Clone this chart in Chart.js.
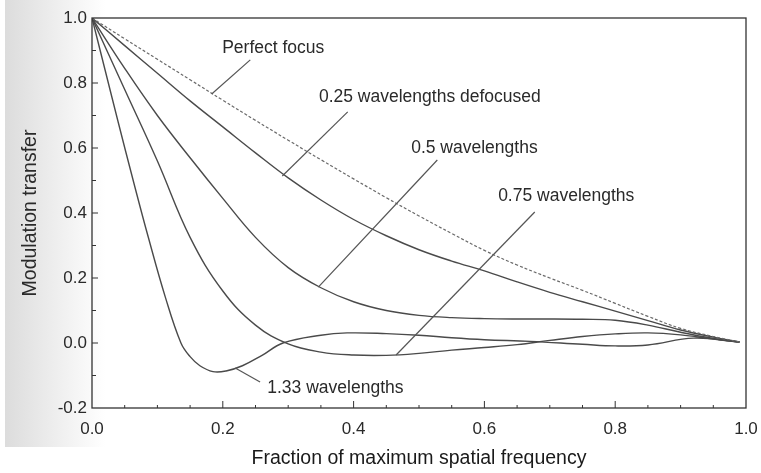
<!DOCTYPE html>
<html lang="en">
<head>
  <meta charset="UTF-8">
  <title>Modulation transfer vs. defocus</title>
  <script src="https://cdn.jsdelivr.net/npm/chart.js"></script>
  <style>
    html, body { margin: 0; padding: 0; background: #fff; }
    .wrap { position: relative; width: 761px; height: 473px; }
    .scan { position: absolute; left: 5px; top: 0; width: 100px; height: 447px;
            background: linear-gradient(to right, #dcdcdc, #ececec 45%, #fff); }
    canvas { position: absolute; left: 0; top: 0; }
  </style>
</head>
<body>
  <div class="wrap">
    <div class="scan"></div>
    <canvas id="mtf" width="761" height="473"></canvas>
  </div>

  <script>
    // Values
    const freq = [0, 0.05, 0.1, 0.15, 0.2, 0.25, 0.3, 0.35, 0.4, 0.45, 0.5, 0.55, 0.6, 0.65, 0.7, 0.75, 0.8, 0.85, 0.9, 0.95, 0.99];
    const perfectFocus = [1, 0.936, 0.873, 0.81, 0.747, 0.685, 0.624, 0.564, 0.505, 0.447, 0.391, 0.337, 0.285, 0.24, 0.2, 0.162, 0.122, 0.082, 0.045, 0.02, 0.003];
    const defocus025 = [1, 0.915, 0.83, 0.745, 0.665, 0.585, 0.508, 0.44, 0.38, 0.33, 0.287, 0.252, 0.222, 0.188, 0.156, 0.127, 0.098, 0.069, 0.04, 0.018, 0.003];
    const defocus05 = [1, 0.845, 0.70, 0.57, 0.445, 0.325, 0.232, 0.17, 0.127, 0.1, 0.085, 0.078, 0.075, 0.074, 0.074, 0.073, 0.07, 0.055, 0.033, 0.014, 0.003];
    const defocus075 = [1, 0.78, 0.56, 0.325, 0.16, 0.055, -0.003, -0.028, -0.037, -0.038, -0.032, -0.022, -0.014, -0.005, 0.008, 0.02, 0.028, 0.031, 0.025, 0.012, 0.003];
    const freq133 = [0, 0.02, 0.04, 0.063, 0.086, 0.112, 0.136, 0.15, 0.165, 0.185, 0.205, 0.23, 0.26, 0.292, 0.35, 0.39, 0.45, 0.5, 0.55, 0.6, 0.67, 0.75, 0.8, 0.85, 0.92, 0.99];
    const defocus133 = [1, 0.84, 0.68, 0.5, 0.326, 0.142, 0.0, -0.042, -0.07, -0.088, -0.086, -0.07, -0.038, 0.0, 0.024, 0.031, 0.029, 0.024, 0.016, 0.01, 0.005, -0.004, -0.009, -0.006, 0.015, 0.003];

    // curve labels: text, left edge / middle of text, and leader line from -> to (data units)
    const labels = [
      { text: 'Perfect focus', at: [0.199, 0.908], leader: [0.242, 0.871, 0.183, 0.766] },
      { text: '0.25 wavelengths defocused', at: [0.347, 0.757], leader: [0.391, 0.711, 0.291, 0.514] },
      { text: '0.5 wavelengths', at: [0.488, 0.600], leader: [0.528, 0.563, 0.346, 0.172] },
      { text: '0.75 wavelengths', at: [0.621, 0.452], leader: [0.677, 0.403, 0.465, -0.037] },
      { text: '1.33 wavelengths', at: [0.268, -0.138], leader: [0.257, -0.12, 0.219, -0.077] }
    ];

    const FONT = '"Liberation Sans", Arial, Helvetica, sans-serif';
    const toPoints = (xs, ys) => xs.map((x, i) => ({ x: x, y: ys[i] }));
    const fmt = v => (Math.abs(v) < 1e-9 ? 0 : v).toFixed(1);

    function curve(data, dashed) {
      return {
        data: data,
        borderColor: dashed ? '#6a6a6a' : '#4a4a4a',
        borderWidth: dashed ? 1.2 : 1.4,
        borderDash: dashed ? [3, 2] : [],
        pointRadius: 0,
        tension: 0.4,
        fill: false
      };
    }

    // box, inward ticks and curve labels
    const overlay = {
      id: 'overlay',
      afterDatasetsDraw(chart) {
        const { ctx, chartArea: a, scales: { x, y } } = chart;
        ctx.save();
        ctx.strokeStyle = '#333';
        ctx.lineWidth = 1.3;
        ctx.strokeRect(a.left, a.top, a.right - a.left, a.bottom - a.top);

        ctx.lineWidth = 1;
        ctx.beginPath();
        for (let i = 1; i < 20; i++) {
          const px = x.getPixelForValue(i * 0.05);
          const len = i % 4 === 0 ? 7 : 3;
          ctx.moveTo(px, a.bottom);
          ctx.lineTo(px, a.bottom - len);
        }
        for (let i = -1; i < 10; i++) {
          const py = y.getPixelForValue(i / 10);
          const len = i % 2 === 0 ? 6 : 4;
          ctx.moveTo(a.left, py);
          ctx.lineTo(a.left + len, py);
        }
        ctx.stroke();

        ctx.strokeStyle = '#555';
        ctx.lineWidth = 1.2;
        ctx.fillStyle = '#2a2a2a';
        ctx.font = '17.5px ' + FONT;
        ctx.textAlign = 'left';
        ctx.textBaseline = 'middle';
        labels.forEach(l => {
          const [x1, y1, x2, y2] = l.leader;
          ctx.beginPath();
          ctx.moveTo(x.getPixelForValue(x1), y.getPixelForValue(y1));
          ctx.lineTo(x.getPixelForValue(x2), y.getPixelForValue(y2));
          ctx.stroke();
          ctx.fillText(l.text, x.getPixelForValue(l.at[0]), y.getPixelForValue(l.at[1]));
        });
        ctx.restore();
      }
    };

    new Chart(document.getElementById('mtf'), {
      type: 'line',
      data: {
        datasets: [
          curve(toPoints(freq, perfectFocus), true),
          curve(toPoints(freq, defocus025)),
          curve(toPoints(freq, defocus05)),
          curve(toPoints(freq, defocus075)),
          curve(toPoints(freq133, defocus133))
        ]
      },
      options: {
        responsive: false,
        animation: false,
        layout: { padding: { top: 18, right: 15, left: 0, bottom: 0 } },
        plugins: { legend: { display: false }, tooltip: { enabled: false } },
        scales: {
          x: {
            type: 'linear', min: 0, max: 1,
            grid: { display: false, drawTicks: false },
            border: { display: false },
            ticks: {
              stepSize: 0.2, padding: 11, color: '#2a2a2a',
              font: { family: FONT, size: 17 },
              callback: fmt
            },
            title: {
              display: true, text: 'Fraction of maximum spatial frequency',
              color: '#1a1a1a', font: { family: FONT, size: 19.5 },
              padding: { top: 0, bottom: 3 }
            },
            afterFit: s => { s.height = 65; s.paddingLeft = 0; s.paddingRight = 0; }
          },
          y: {
            min: -0.2, max: 1.0,
            grid: { display: false, drawTicks: false },
            border: { display: false },
            ticks: {
              stepSize: 0.2, padding: 5, color: '#2a2a2a',
              font: { family: FONT, size: 17 },
              callback: fmt
            },
            title: {
              display: true, text: 'Modulation transfer',
              color: '#2a2a2a', font: { family: FONT, size: 19.5 },
              padding: { top: 19, bottom: 0 }
            },
            afterFit: s => { s.width = 92; s.paddingTop = 0; s.paddingBottom = 0; }
          }
        }
      },
      plugins: [overlay]
    });
  </script>
</body>
</html>
